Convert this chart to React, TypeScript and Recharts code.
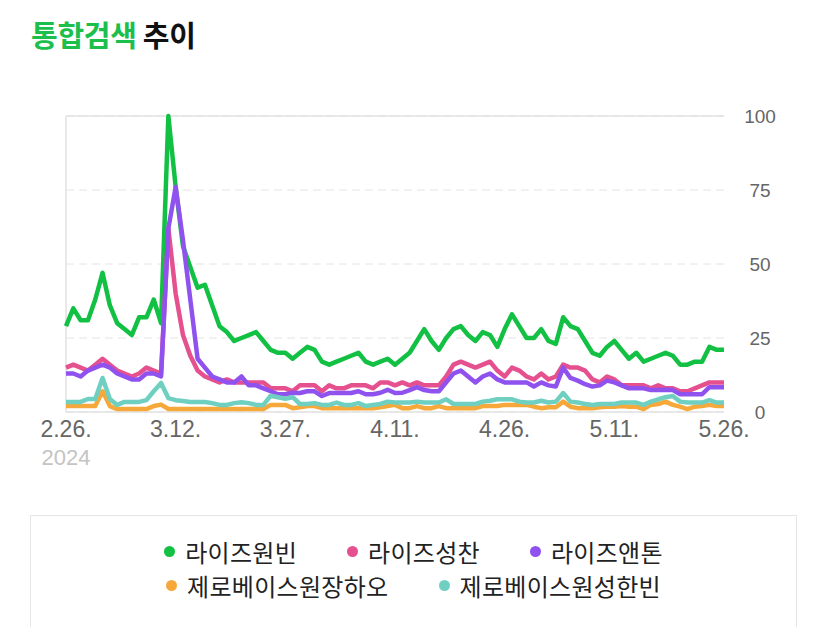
import { LineChart, Line, XAxis, YAxis, CartesianGrid, ReferenceLine } from 'recharts';

// 2024.2.26 ~ 5.26, daily
const startDate = new Date(2024, 1, 26);
const dayCount = 91;
const dates: string[] = Array.from({ length: dayCount }, (_, i) => {
  const d = new Date(startDate);
  d.setDate(d.getDate() + i);
  return `${d.getMonth() + 1}.${d.getDate()}.`;
});

const xTicks = ['2.26.', '3.12.', '3.27.', '4.11.', '4.26.', '5.11.', '5.26.'];
const yTicks = [0, 25, 50, 75, 100];

const wonbin = [
  29, 35, 31, 31, 38, 47, 36, 30, 28, 26,
  32, 32, 38, 30, 100, 76, 56, 49, 42, 43,
  36, 29, 27, 24, 25, 26, 27, 24, 21, 20,
  20, 18, 20, 22, 21, 17, 16, 17, 18, 19,
  20, 17, 16, 17, 18, 16, 18, 20, 24, 28,
  24, 21, 25, 28, 29, 26, 24, 27, 26, 22,
  28, 33, 29, 25, 25, 28, 24, 23, 32, 29,
  28, 24, 20, 19, 22, 24, 21, 18, 20, 17,
  18, 19, 20, 19, 16, 16, 17, 17, 22, 21,
  21,
];

const sungchan = [
  15, 16, 15, 14, 16, 18, 16, 14, 13, 12,
  13, 15, 14, 13, 62, 40, 26, 19, 14, 12,
  11, 10, 11, 10, 10, 10, 10, 10, 8, 8,
  8, 7, 9, 9, 9, 7, 9, 8, 8, 9,
  9, 9, 8, 10, 10, 9, 10, 9, 10, 9,
  9, 9, 12, 16, 17, 16, 15, 16, 17, 14,
  12, 15, 14, 12, 11, 13, 11, 12, 16, 15,
  15, 14, 11, 10, 12, 11, 9, 9, 9, 9,
  8, 9, 8, 8, 7, 7, 8, 9, 10, 10,
  10,
];

const anton = [
  13, 13, 12, 14, 15, 16, 15, 13, 12, 11,
  11, 13, 13, 12, 62, 76, 58, 38, 18, 15,
  12, 11, 10, 10, 12, 9, 9, 8, 7, 6,
  6, 6.5, 6.4, 7, 7, 5.4, 6.4, 6.4, 6.4, 6.4,
  7, 6, 6, 6.5, 7.5, 6.4, 6.5, 7.4, 8.4, 7.4,
  7, 7, 10, 13, 14, 12, 10, 12, 13, 11,
  10, 10, 10, 10, 8.6, 10, 9, 8.6, 15, 11.5,
  10.6, 9.4, 8.6, 9, 10.6, 10, 9, 8, 8, 8,
  7.4, 7.4, 7.5, 7.4, 6, 6, 6, 6, 8.4, 8.4,
  8.4,
];

const zhanghao = [
  2, 2, 2, 2, 2, 7, 2, 1, 1, 1,
  1, 1, 2, 2.5, 1, 1, 1, 1, 1, 1,
  1, 1, 1, 1, 1, 1, 1, 1, 2.4, 2.4,
  2.4, 1.3, 1.6, 2, 2, 1.3, 1.3, 1.3, 1.3, 1.3,
  1.3, 1.3, 1.3, 1.6, 2, 2.4, 1.3, 1.3, 2, 1.3,
  1.3, 2, 1.3, 1.3, 1.3, 1.3, 1.3, 2, 2, 2,
  2.4, 2.4, 2.4, 2.4, 1.8, 1.3, 1.6, 1.6, 3.5, 1.8,
  1.3, 1.3, 1.3, 1.6, 1.8, 1.8, 2, 1.8, 1.8, 1,
  2.4, 2.7, 3.5, 2.4, 1.8, 1, 1.8, 2, 2.4, 2,
  2,
];

const hanbin = [
  3.4, 3.4, 3.4, 4.4, 4.4, 11.5, 4.4, 2.4, 3.4, 3.4,
  3.4, 4, 7, 9.8, 4.7, 4, 3.7, 3.4, 3.4, 3.4,
  3, 2.4, 2.4, 3, 3.3, 3, 2.4, 2.4, 5.5, 5,
  4.5, 5, 2.7, 2.7, 3, 2.4, 2.4, 3.2, 2.4, 2.4,
  3, 2, 2.4, 2.7, 3.5, 3.2, 3.2, 3.2, 3.5, 3.2,
  3.2, 3.2, 4.3, 2.7, 2.7, 2.7, 2.7, 3.5, 3.8, 4.3,
  4.3, 4.3, 3.5, 3.2, 3.2, 3.8, 3.2, 3.5, 6.4, 3.5,
  3.2, 2.7, 2.4, 2.7, 2.7, 2.7, 3.2, 3.2, 3.2, 2.4,
  3.5, 4.3, 5, 5.4, 3.5, 3.2, 3.2, 3.2, 4, 3.2,
  3.2,
];

const series = [
  { key: 'wonbin', name: '라이즈원빈', color: '#12c143', values: wonbin },
  { key: 'sungchan', name: '라이즈성찬', color: '#e5508f', values: sungchan },
  { key: 'anton', name: '라이즈앤톤', color: '#8f52ef', values: anton },
  { key: 'zhanghao', name: '제로베이스원장하오', color: '#f6a93a', values: zhanghao },
  { key: 'hanbin', name: '제로베이스원성한빈', color: '#6fd0c1', values: hanbin },
];

const data = dates.map((date, i) => {
  const row: Record<string, string | number> = { date };
  series.forEach((s) => {
    row[s.key] = s.values[i];
  });
  return row;
});

const numFont = '"Liberation Sans", Arial, "Noto Sans CJK KR", sans-serif';
const krFont = '"Noto Sans CJK KR", "Noto Sans", sans-serif';

function XTick(props: any) {
  const { x, y, payload, index } = props;
  return (
    <g>
      <text x={x} y={y} dy={17} textAnchor="middle" fill="#666" fontSize={23} fontFamily={numFont}>
        {payload.value}
      </text>
      {index === 0 && (
        <text x={x} y={y} dy={45} textAnchor="middle" fill="#c4c4c4" fontSize={22} fontFamily={numFont}>
          2024
        </text>
      )}
    </g>
  );
}

function YTick(props: any) {
  const { x, y, payload } = props;
  return (
    <text x={x} y={y} dy={7} textAnchor="middle" fill="#666" fontSize={19} fontFamily={numFont}>
      {payload.value}
    </text>
  );
}

export default function App() {
  const rows = [series.slice(0, 3), series.slice(3)];
  return (
    <div style={{ position: 'absolute', left: 0, top: 0, width: 818, height: 627, background: '#fff' }}>
      <div
        style={{
          position: 'absolute',
          left: 31,
          top: 15,
          fontFamily: krFont,
          fontWeight: 700,
          fontSize: 29,
          lineHeight: '38px',
          letterSpacing: -0.3,
        }}
      >
        <span style={{ color: '#1cbf4c' }}>통합검색</span> <span style={{ color: '#111' }}>추이</span>
      </div>

      <div style={{ position: 'absolute', left: 0, top: 0 }}>
        <LineChart width={818} height={500} data={data} margin={{ top: 116, right: 34, bottom: 28, left: 66 }}>
          <CartesianGrid vertical={false} stroke="#e4e4e4" strokeDasharray="8 5" />
          <ReferenceLine y={100} stroke="#e2e2e2" strokeWidth={1.5} />
          <ReferenceLine y={0} stroke="#e2e2e2" strokeWidth={1.5} />
          <ReferenceLine x={dates[0]} stroke="#e2e2e2" strokeWidth={1.5} />
          <XAxis
            dataKey="date"
            ticks={xTicks}
            interval={0}
            axisLine={false}
            tickLine={false}
            height={60}
            tick={<XTick />}
          />
          <YAxis
            orientation="right"
            domain={[0, 100]}
            ticks={yTicks}
            axisLine={false}
            tickLine={false}
            tickSize={0}
            tickMargin={36}
            width={60}
            tick={<YTick />}
          />
          {series.map((s) => (
            <Line
              key={s.key}
              dataKey={s.key}
              name={s.name}
              stroke={s.color}
              strokeWidth={4.5}
              dot={false}
              strokeLinejoin="round"
              isAnimationActive={false}
            />
          ))}
        </LineChart>
      </div>

      <div
        style={{
          position: 'absolute',
          left: 30,
          top: 515,
          width: 767,
          height: 112,
          border: '1px solid #e6e6e6',
          borderBottom: 'none',
          boxSizing: 'border-box',
          paddingTop: 18,
          fontFamily: krFont,
          fontSize: 24,
          letterSpacing: 0.3,
          color: '#222',
        }}
      >
        {rows.map((row, r) => (
          <div key={r} style={{ display: 'flex', justifyContent: 'center', gap: 50, height: 34, alignItems: 'center' }}>
            {row.map((s) => (
              <div key={s.key} style={{ display: 'flex', alignItems: 'center' }}>
                <span
                  style={{
                    display: 'inline-block',
                    width: 11,
                    height: 11,
                    borderRadius: 6,
                    background: s.color,
                    marginRight: 10,
                  }}
                />
                <span>{s.name}</span>
              </div>
            ))}
          </div>
        ))}
      </div>
    </div>
  );
}
